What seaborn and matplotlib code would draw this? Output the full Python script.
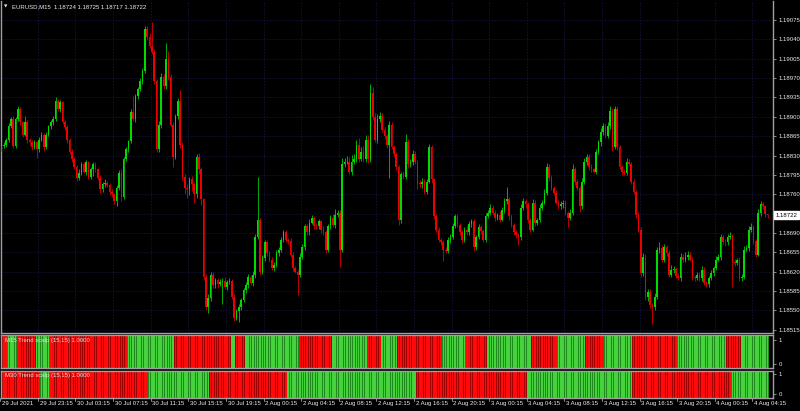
import matplotlib
matplotlib.use("Agg")
import matplotlib.pyplot as plt
import matplotlib.transforms as mtransforms
import numpy as np
import pandas as pd
import seaborn as sns

sns.set_style("dark", {"axes.facecolor": "black", "figure.facecolor": "black"})
plt.rcParams['font.family'] = ['Liberation Sans', 'DejaVu Sans']

# ---------------- data (prices in points above 1.18000) ----------------
title_symbol = "EURUSD,M15"
title_ohlc = "1.18724 1.18725 1.18717 1.18722"
current_price = 1.18722
base_price = 1.18
first_open = 836

close_pts = [
    847, 850, 859, 883, 896, 848, 896, 914, 890, 868, 890, 859, 854, 845, 854, 841, 859, 868, 845, 868,
    883, 890, 896, 928, 914, 926, 890, 881, 859, 837, 823, 810, 790, 799, 814, 801, 818, 792, 805, 814,
    805, 790, 769, 778, 781, 776, 765, 760, 747, 772, 799, 756, 823, 841, 856, 908, 896, 937, 950, 964,
    983, 1059, 1044, 1028, 1017, 964, 841, 886, 972, 955, 1004, 972, 886, 828, 901, 928, 850, 792, 772, 769,
    787, 778, 760, 828, 805, 751, 611, 556, 573, 615, 596, 605, 598, 602, 604, 593, 602, 604, 575, 537,
    549, 556, 569, 587, 596, 611, 600, 615, 683, 714, 620, 645, 673, 654, 642, 627, 633, 654, 660, 678,
    691, 678, 676, 651, 627, 620, 615, 647, 665, 702, 691, 709, 718, 703, 702, 711, 696, 691, 660, 702,
    718, 705, 723, 727, 660, 814, 818, 819, 801, 819, 823, 850, 823, 837, 823, 859, 823, 944, 899, 859,
    896, 901, 877, 865, 850, 886, 845, 832, 810, 714, 796, 792, 854, 814, 818, 832, 818, 781, 778, 783,
    765, 783, 845, 787, 720, 696, 678, 674, 660, 658, 678, 683, 702, 720, 705, 691, 678, 696, 691, 707,
    711, 665, 683, 700, 694, 678, 720, 727, 736, 727, 718, 723, 714, 732, 747, 751, 720, 705, 691, 687,
    683, 736, 747, 742, 714, 696, 745, 709, 714, 736, 745, 763, 809, 790, 772, 763, 745, 738, 742, 745,
    727, 718, 727, 805, 783, 772, 738, 783, 819, 828, 809, 805, 801, 836, 854, 872, 883, 865, 883, 910,
    845, 914, 845, 810, 801, 799, 819, 814, 783, 765, 723, 696, 618, 647, 575, 584, 560, 556, 575, 660,
    663, 642, 665, 654, 615, 624, 625, 613, 609, 647, 642, 647, 651, 642, 611, 609, 615, 609, 624, 600,
    598, 609, 618, 627, 642, 647, 682, 674, 673, 683, 685, 638, 636, 642, 609, 611, 660, 663, 696, 700,
    676, 651, 727, 742, 738, 724, 722,
]

upper_wick = [
    3, 4, 3, 5, 4, 6, 3, 5, 4, 3, 11, 4, 3, 5, 4, 3, 4, 5, 3, 4,
    3, 4, 6, 7, 5, 4, 3, 5, 4, 3, 4, 5, 3, 6, 4, 5, 4, 3, 5, 4,
    4, 3, 5, 4, 6, 3, 4, 5, 3, 4, 5, 6, 4, 5, 3, 6, 29, 5, 4, 6,
    5, 6, 5, 7, 44, 6, 5, 6, 8, 5, 30, 15, 6, 4, 5, 6, 20, 5, 4, 6,
    5, 6, 4, 5, 6, 4, 3, 5, 6, 4, 5, 4, 3, 5, 4, 6, 4, 5, 3, 4,
    4, 5, 3, 4, 6, 5, 4, 6, 5, 78, 4, 6, 5, 4, 3, 5, 4, 6, 5, 4,
    5, 4, 3, 5, 4, 3, 4, 6, 5, 4, 5, 6, 4, 3, 5, 4, 3, 6, 4, 5,
    4, 6, 10, 5, 4, 12, 8, 10, 9, 12, 10, 8, 11, 9, 10, 8, 9, 15, 10, 8,
    9, 7, 6, 5, 4, 6, 5, 4, 5, 3, 5, 6, 15, 6, 5, 8, 6, 4, 5, 6,
    5, 4, 6, 5, 3, 4, 5, 3, 4, 5, 4, 5, 6, 5, 4, 3, 5, 4, 6, 5,
    4, 5, 3, 6, 5, 4, 6, 5, 7, 4, 5, 4, 6, 5, 7, 23, 5, 4, 3, 4,
    3, 6, 7, 5, 4, 3, 6, 5, 4, 6, 5, 7, 8, 5, 4, 3, 5, 4, 6, 5,
    4, 3, 6, 9, 5, 4, 3, 6, 7, 5, 4, 5, 3, 6, 5, 7, 6, 5, 8, 10,
    6, 6, 5, 4, 3, 5, 6, 4, 5, 4, 3, 5, 4, 6, 5, 4, 5, 3, 6, 5,
    10, 5, 6, 4, 5, 8, 6, 4, 5, 7, 5, 8, 6, 4, 5, 3, 4, 5, 6, 4,
    3, 4, 5, 4, 6, 5, 6, 4, 5, 6, 7, 4, 5, 3, 4, 5, 6, 5, 7, 8,
    4, 3, 6, 5, 4, 3, 1,
]

lower_wick = [
    4, 3, 5, 4, 3, 5, 4, 3, 5, 4, 3, 6, 4, 5, 3, 16, 4, 3, 6, 4,
    3, 5, 4, 3, 4, 5, 3, 4, 6, 5, 4, 5, 6, 4, 5, 3, 6, 4, 5, 12,
    4, 5, 6, 4, 5, 3, 6, 5, 4, 9, 5, 8, 4, 3, 5, 4, 3, 5, 4, 3,
    4, 3, 5, 4, 3, 5, 5, 4, 6, 5, 4, 5, 4, 18, 4, 5, 6, 7, 12, 15,
    10, 12, 15, 6, 8, 10, 5, 6, 10, 5, 6, 5, 8, 4, 40, 5, 6, 4, 5, 6,
    5, 20, 6, 4, 5, 6, 4, 5, 6, 4, 5, 4, 6, 5, 4, 3, 5, 4, 6, 5,
    4, 5, 6, 4, 5, 3, 37, 5, 4, 6, 5, 4, 3, 5, 4, 5, 6, 4, 6, 5,
    4, 5, 6, 4, 31, 5, 4, 3, 5, 6, 4, 5, 4, 3, 5, 4, 6, 5, 4, 5,
    6, 5, 4, 5, 6, 60, 4, 5, 6, 10, 5, 4, 5, 6, 4, 5, 4, 12, 5, 6,
    4, 5, 3, 6, 5, 4, 5, 6, 20, 4, 5, 6, 4, 3, 5, 4, 6, 5, 4, 5,
    6, 8, 5, 4, 6, 5, 4, 3, 5, 4, 6, 5, 4, 3, 5, 4, 6, 5, 4, 6,
    14, 5, 4, 6, 5, 4, 3, 6, 5, 4, 5, 3, 4, 6, 5, 4, 3, 5, 4, 6,
    5, 18, 4, 5, 6, 4, 10, 5, 4, 6, 5, 4, 3, 5, 4, 6, 5, 4, 3, 5,
    6, 4, 5, 4, 6, 5, 4, 3, 5, 4, 6, 5, 8, 5, 6, 7, 6, 30, 5, 4,
    6, 5, 4, 6, 5, 4, 6, 5, 4, 6, 5, 4, 5, 3, 6, 5, 4, 5, 6, 4,
    5, 6, 4, 5, 4, 3, 5, 4, 6, 5, 4, 45, 5, 4, 6, 5, 4, 3, 5, 4,
    5, 4, 3, 6, 4, 5, 5,
]

x_tick_bars = [0, 16, 32, 48, 64, 80, 96, 112, 128, 144, 160, 176, 192, 208, 224, 240, 256, 272, 288, 304, 320]
x_tick_labels = ["29 Jul 2021", "29 Jul 23:15", "30 Jul 03:15", "30 Jul 07:15", "30 Jul 11:15",
                 "30 Jul 15:15", "30 Jul 19:15", "2 Aug 00:15", "2 Aug 04:15", "2 Aug 08:15",
                 "2 Aug 12:15", "2 Aug 16:15", "2 Aug 20:15", "3 Aug 00:15", "3 Aug 04:15",
                 "3 Aug 08:15", "3 Aug 12:15", "3 Aug 16:15", "3 Aug 20:15", "4 Aug 00:15", "4 Aug 04:15"]
y_grid_prices = [1.19075, 1.19040, 1.19005, 1.18970, 1.18935, 1.18900, 1.18865, 1.18830, 1.18795,
                 1.18760, 1.18725, 1.18690, 1.18655, 1.18620, 1.18585, 1.18550, 1.18515]
y_label_prices = [1.19075, 1.19040, 1.19005, 1.18970, 1.18935, 1.18900, 1.18865, 1.18830, 1.18795,
                  1.18760, 1.18690, 1.18655, 1.18620, 1.18585, 1.18550, 1.18515]

m15_label = "M15 Trend scalp (15,15) 1.0000"
m15_runs = [("r", 3), ("g", 4), ("r", 8), ("g", 6), ("r", 33), ("g", 20), ("r", 24), ("g", 2),
            ("r", 4), ("g", 23), ("r", 14), ("g", 15), ("r", 6), ("g", 7), ("r", 19), ("g", 10),
            ("r", 9), ("g", 19), ("r", 11), ("g", 12), ("r", 8), ("g", 12), ("r", 19), ("g", 21),
            ("r", 6), ("g", 12)]
m30_label = "M30 Trend scalp (15,15) 1.0000"
m30_runs = [("r", 17), ("g", 4), ("r", 42), ("g", 26), ("r", 33), ("g", 55), ("r", 47),
            ("g", 45), ("r", 42), ("g", 16)]

# ---------------- styling ----------------
BULL = "#00dc00"
BEAR = "#ee0000"
IND_GREEN = "#46d23c"
IND_GREEN_DK = "#1f8a1c"
IND_RED = "#ff0a0a"
IND_RED_DK = "#a00000"
GRID = "#121238"
BORDER = "#a0a0a0"
TXT = "#ececec"
FS = 4.3

closes = base_price + np.array(close_pts) / 1e5
opens = np.concatenate([[base_price + first_open / 1e5], closes[:-1]])
highs = np.maximum(opens, closes) + np.array(upper_wick) / 1e5
lows = np.minimum(opens, closes) - np.array(lower_wick) / 1e5
n = len(closes)
df = pd.DataFrame({"bar": np.arange(n), "open": opens, "high": highs, "low": lows, "close": closes})
df["color"] = np.where(df["close"] > df["open"], BULL, BEAR)
df["body_lo"] = np.minimum(df["open"], df["close"])
df["body_h"] = np.maximum(np.abs(df["close"] - df["open"]), 0.000012)

W, H = 800, 411
fig = plt.figure(figsize=(W / 100, H / 100), dpi=100, facecolor="black")


def rect(x0, y0, x1, y1):
    return [x0 / W, 1 - y1 / H, (x1 - x0) / W, (y1 - y0) / H]


ax = fig.add_axes(rect(1, 1, 773, 333))
ax1 = fig.add_axes(rect(1, 335, 773, 368))
ax2 = fig.add_axes(rect(1, 371, 773, 398))

xlim = (-0.2, 328.3)
for a in (ax, ax1, ax2):
    a.set_facecolor("black")
    a.set_xlim(*xlim)
    for s in a.spines.values():
        s.set_color(BORDER)
        s.set_linewidth(1.0)
        s.set_visible(True)
    a.tick_params(axis="x", length=0, labelbottom=False)
    a.grid(False)
ax.spines["top"].set_visible(False)

# grid
for b in x_tick_bars:
    ax.axvline(b - 0.5, color=GRID, lw=0.7, ls=(0, (1.5, 1.5)), zorder=0)
for p in y_grid_prices:
    ax.axhline(p, color=GRID, lw=0.7, ls=(0, (1.5, 1.5)), zorder=0)

# candles
ax.vlines(df["bar"], df["low"], df["high"], colors=df["color"], lw=0.55, zorder=2)
ax.bar(df["bar"], df["body_h"], bottom=df["body_lo"], width=0.7, color=df["color"],
       linewidth=0, zorder=3)

ax.set_ylim(1.185093, 1.191094)
ax.yaxis.tick_right()
ax.set_yticks(y_label_prices)
ax.set_yticklabels([f"{p:.5f}" for p in y_label_prices])
ax.tick_params(axis="y", length=2.5, width=0.6, color=BORDER, pad=1.5, labelsize=FS,
               labelcolor=TXT, left=False, right=True)

# current price tag
ax.text(1.0035, current_price, f"{current_price:.5f}",
        transform=mtransforms.blended_transform_factory(ax.transAxes, ax.transData),
        ha="left", va="center", fontsize=FS, color="black",
        bbox=dict(boxstyle="square,pad=0.25", facecolor="white", edgecolor="white"), clip_on=False, zorder=10)

# title
fig.text(4 / W, 1 - 6.5 / H, "\u25BC", fontsize=3.2, color=TXT, ha="left", va="center", family="DejaVu Sans")
fig.text(12 / W, 1 - 6.5 / H, f"{title_symbol}  {title_ohlc}", fontsize=FS, color=TXT, ha="left", va="center")


# indicator panels
def expand(runs):
    out = []
    for c, k in runs:
        out += [c] * k
    return out


for a, runs, lbl, t1, t0 in ((ax1, m15_runs, m15_label, 0.86, 0.12),
                              (ax2, m30_runs, m30_label, 0.88, 0.14)):
    cols = expand(runs)[:n]
    ind = pd.DataFrame({"bar": np.arange(len(cols)), "val": 1.0,
                        "col": [IND_GREEN if c == "g" else IND_RED for c in cols],
                        "dk": [IND_GREEN_DK if c == "g" else IND_RED_DK for c in cols]})
    a.bar(ind["bar"], ind["val"], width=1.0, color=ind["dk"], linewidth=0, zorder=1)
    a.bar(ind["bar"], ind["val"], width=0.66, color=ind["col"], linewidth=0, zorder=2)
    a.set_ylim(0, 1)
    a.yaxis.tick_right()
    a.set_yticks([t1, t0])
    a.set_yticklabels(["1", "0"])
    a.tick_params(axis="y", length=2.5, width=0.6, color=BORDER, pad=1.5, labelsize=FS,
                  labelcolor=TXT, left=False, right=True)
    a.text(4 / 772, 0.82, lbl, transform=a.transAxes, fontsize=FS, color="#e0e0e0",
           ha="left", va="center", zorder=5)

# x axis labels on bottom panel
trans = mtransforms.blended_transform_factory(ax2.transData, ax2.transAxes)
for b, lab in zip(x_tick_bars, x_tick_labels):
    ax2.plot([b - 0.5, b - 0.5], [0, -0.12], color=BORDER, lw=0.6, transform=trans, clip_on=False)
    ax2.text(b - 0.5 + 0.7, -0.12, lab, transform=trans, fontsize=FS, color=TXT,
             ha="left", va="top", clip_on=False)

fig.savefig("out.png", dpi=100, facecolor="black")
